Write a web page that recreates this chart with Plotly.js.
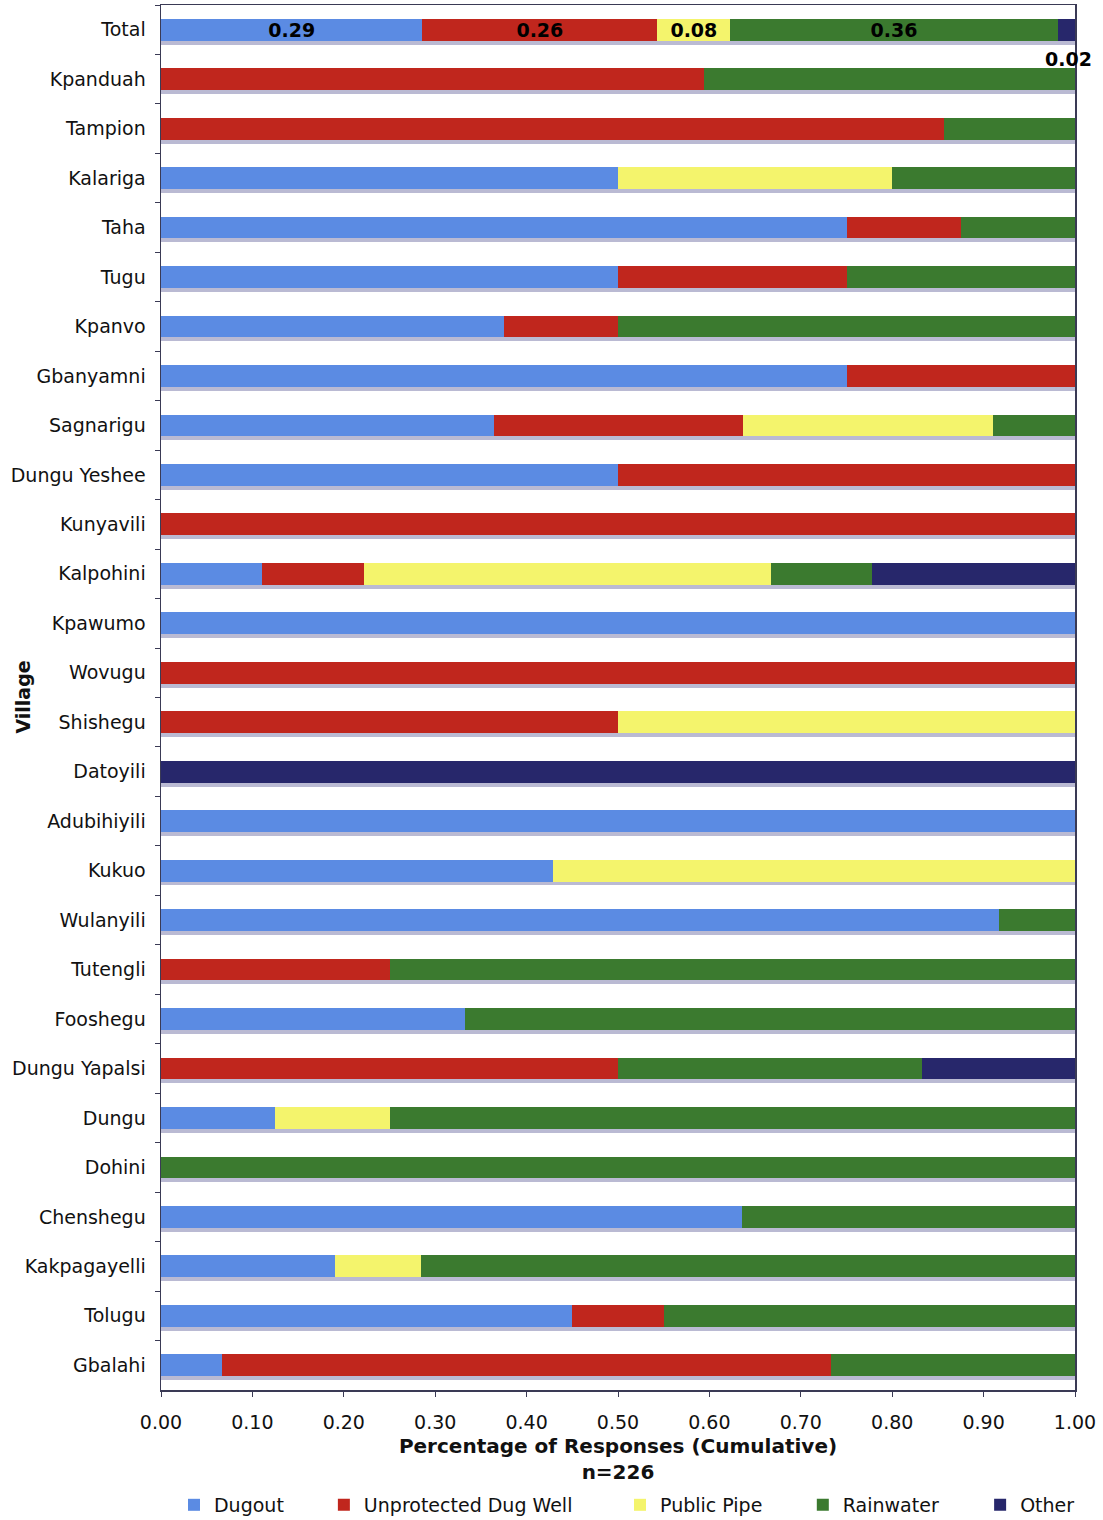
<!DOCTYPE html>
<html>
<head>
<meta charset="utf-8">
<script src="https://cdn.plot.ly/plotly-3.0.1.min.js"></script>
<style>html,body{margin:0;padding:0;background:#fff;}#chart{width:1103px;height:1520px;}</style>
</head>
<body>
<div id="chart"></div>
<script>
const villages = ['Total','Kpanduah','Tampion','Kalariga','Taha','Tugu','Kpanvo','Gbanyamni','Sagnarigu','Dungu Yeshee','Kunyavili','Kalpohini','Kpawumo','Wovugu','Shishegu','Datoyili','Adubihiyili','Kukuo','Wulanyili','Tutengli','Fooshegu','Dungu Yapalsi','Dungu','Dohini','Chenshegu','Kakpagayelli','Tolugu','Gbalahi'];
const dugout = [0.286,0,0,0.5,0.75,0.5,0.375,0.75,0.364,0.5,0,0.111,1,0,0,0,1,0.429,0.917,0,0.333,0,0.125,0,0.636,0.190,0.45,0.067];
const dugWell = [0.257,0.594,0.857,0,0.125,0.25,0.125,0.25,0.273,0.5,1,0.111,0,1,0.5,0,0,0,0,0.25,0,0.5,0,0,0,0,0.1,0.666];
const publicPipe = [0.080,0,0,0.3,0,0,0,0,0.273,0,0,0.445,0,0,0.5,0,0,0.571,0,0,0,0,0.125,0,0,0.095,0,0];
const rainwater = [0.358,0.406,0.143,0.2,0.125,0.25,0.5,0,0.091,0,0,0.111,0,0,0,0,0,0,0.083,0.75,0.667,0.333,0.75,1,0.364,0.715,0.45,0.267];
const other = [0.019,0,0,0,0,0,0,0,0,0,0,0.222,0,0,0,1,0,0,0,0,0,0.167,0,0,0,0,0,0];
const seriesNames = ['Dugout','Unprotected Dug Well','Public Pipe','Rainwater','Other'];
const seriesColors = ['#5b8be3','#c0261d','#f4f46c','#3b7a2f','#27276b'];

const FONT = 'DejaVu Sans, Verdana, sans-serif';
const seriesData = [dugout, dugWell, publicPipe, rainwater, other];
const N = villages.length;
const legendIds = ['legend','legend2','legend3','legend4','legend5'];
const legendX = [0.0142, 0.1782, 0.5022, 0.7022, 0.8962];

// row totals for the shadow under each bar
const totals = villages.map((v,i)=>seriesData.reduce((s,arr)=>s+arr[i],0));

const traces = [];
traces.push({
  type:'bar', orientation:'h', y:villages, x:totals, yaxis:'y', xaxis:'x',
  marker:{color:'rgba(130,130,175,0.55)'}, showlegend:false, hoverinfo:'skip', name:'shadow'
});
seriesData.forEach((arr,k)=>{
  const labels = arr.map((v,i)=> (i===0 && k<4) ? v.toFixed(2) : '');
  traces.push({
    type:'bar', orientation:'h', y:villages, x:arr, name:seriesNames[k],
    yaxis:'y2', xaxis:'x', legend:legendIds[k],
    marker:{color:seriesColors[k]},
    text:labels, textposition:'inside', insidetextanchor:'middle',
    constraintext:'none',
    textfont:{family:FONT, size:19, color:'#000', weight:'bold'}
  });
});

const d = 0.08;
const layout = {
  width:1103, height:1520,
  margin:{l:161, r:28, t:5, b:130, autoexpand:false},
  barmode:'stack', bargap:0.56,
  paper_bgcolor:'#fff', plot_bgcolor:'#fff',
  font:{family:FONT, size:19, color:'#111'},
  xaxis:{
    range:[0,1], tickvals:[0,0.1,0.2,0.3,0.4,0.5,0.6,0.7,0.8,0.9,1.0], tickformat:'.2f',
    showgrid:false, zeroline:false, showline:true, linecolor:'#3a3a55', linewidth:1.5, mirror:true,
    ticks:'outside', ticklen:5, tickcolor:'#3a3a55', ticklabelstandoff:10,
    tickfont:{family:FONT, size:19, color:'#111'},
    title:{text:'<b>Percentage of Responses (Cumulative)</b><br><b>n=226</b>', font:{family:FONT, size:20, color:'#111'}, standoff:6}
  },
  yaxis:{
    type:'category', categoryorder:'array', categoryarray:villages,
    range:[N-0.5-d, -0.5-d], showticklabels:false, showgrid:false, zeroline:false,
    showline:false, ticks:''
  },
  yaxis2:{
    type:'category', categoryorder:'array', categoryarray:villages,
    overlaying:'y', side:'left',
    range:[N-0.5, -0.5], showgrid:false, zeroline:false,
    showline:true, linecolor:'#3a3a55', linewidth:1.5, mirror:true,
    ticks:'outside', ticklen:5, tickcolor:'#3a3a55', tickson:'boundaries',
    ticklabelstandoff:10,
    tickfont:{family:FONT, size:19, color:'#111'}
  },
  annotations:[{
    x: totals[0], y: villages[0], xref:'x', yref:'y2',
    text:'<b>' + other[0].toFixed(2) + '</b>', showarrow:false,
    xanchor:'center', yanchor:'middle', xshift:-7, yshift:-29,
    font:{family:FONT, size:19, color:'#000'}
  },{
    x:-0.152, y:0.5, xref:'paper', yref:'paper', textangle:-90,
    text:'<b>Village</b>', showarrow:false, xanchor:'center', yanchor:'middle',
    font:{family:FONT, size:19, color:'#111'}
  }]
};
legendIds.forEach((id,k)=>{
  layout[id] = {
    orientation:'h', x:legendX[k], xanchor:'left', y:-0.083, yanchor:'middle',
    font:{family:FONT, size:19, color:'#111'}, itemwidth:20, bgcolor:'rgba(0,0,0,0)'
  };
});

Plotly.newPlot('chart', traces, layout, {displayModeBar:false, staticPlot:true});
</script>
</body>
</html>
